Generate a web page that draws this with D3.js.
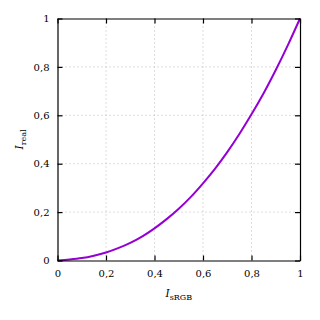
<!DOCTYPE html>
<html><head><meta charset="utf-8">
<script src="https://cdn.jsdelivr.net/npm/d3@7"></script>
<style>body{margin:0;background:#fff}svg{display:block}</style>
</head><body>
<script>
const xs = [0,0.05,0.1,0.15,0.2,0.25,0.3,0.35,0.4,0.45,0.5,0.55,0.6,0.65,0.7,0.75,0.8,0.85,0.9,0.95,1];
const ys = [0,0.004,0.010,0.020,0.033,0.051,0.073,0.100,0.133,0.171,0.214,0.263,0.319,0.380,0.448,0.523,0.604,0.691,0.787,0.890,1];
const tickVals = [0,0.2,0.4,0.6,0.8,1];
const tickLabels = ["0","0,2","0,4","0,6","0,8","1"];

const W=320,H=320, L=57.5, R=300, T=18.5, B=260.5;
const svg=d3.select("body").append("svg").attr("width",W).attr("height",H);
const x=d3.scaleLinear().domain([0,1]).range([L,R]);
const y=d3.scaleLinear().domain([0,1]).range([B,T]);
const font="DejaVu Serif";

// grid
const g=svg.append("g");
tickVals.slice(1,-1).forEach(v=>{
  g.append("line").attr("x1",x(v)).attr("x2",x(v)).attr("y1",T).attr("y2",B)
   .attr("stroke","#bbb").attr("stroke-width",1).attr("stroke-dasharray","1,3");
  g.append("line").attr("y1",y(v)).attr("y2",y(v)).attr("x1",L).attr("x2",R)
   .attr("stroke","#bbb").attr("stroke-width",1).attr("stroke-dasharray","1,3");
});

// curve
const pts=xs.map((d,i)=>[d,ys[i]]);
svg.append("path").datum(pts)
  .attr("d",d3.line().x(d=>x(d[0])).y(d=>y(d[1])).curve(d3.curveCatmullRom))
  .attr("fill","none").attr("stroke","#9400d3").attr("stroke-width",2);

// axes
const fmt=(d)=>tickLabels[tickVals.indexOf(d)];
const ax=(gen,tr)=>{const a=svg.append("g").attr("transform",tr).call(gen);
  a.select(".domain").attr("stroke","#000").attr("stroke-width",1.2);
  a.selectAll(".tick line").attr("stroke","#000").attr("stroke-width",1.2);
  a.selectAll("text").attr("font-family",font).attr("font-size",10).attr("fill","#000");
  return a;};
ax(d3.axisBottom(x).tickValues(tickVals).tickFormat(fmt).tickSizeInner(-5).tickSizeOuter(0).tickPadding(9),`translate(0,${B})`);
ax(d3.axisLeft(y).tickValues(tickVals).tickFormat(fmt).tickSizeInner(-5).tickSizeOuter(0).tickPadding(8),`translate(${L},0)`);
ax(d3.axisTop(x).tickValues(tickVals).tickFormat("").tickSizeInner(-5).tickSizeOuter(0),`translate(0,${T})`);
ax(d3.axisRight(y).tickValues(tickVals).tickFormat("").tickSizeInner(-5).tickSizeOuter(0),`translate(${R},0)`);

// labels
const xl=svg.append("text").attr("x",(L+R)/2).attr("y",297).attr("text-anchor","middle")
  .attr("font-family",font).attr("font-size",10.5);
xl.append("tspan").attr("font-style","italic").text("I");
xl.append("tspan").attr("font-size",8).attr("dy",2.5).text("sRGB");
const yl=svg.append("text").attr("transform",`translate(23,${(T+B)/2}) rotate(-90)`).attr("text-anchor","middle")
  .attr("font-family",font).attr("font-size",10.5);
yl.append("tspan").attr("font-style","italic").text("I");
yl.append("tspan").attr("font-size",8).attr("dy",2.5).text("real");
</script>
</body></html>
